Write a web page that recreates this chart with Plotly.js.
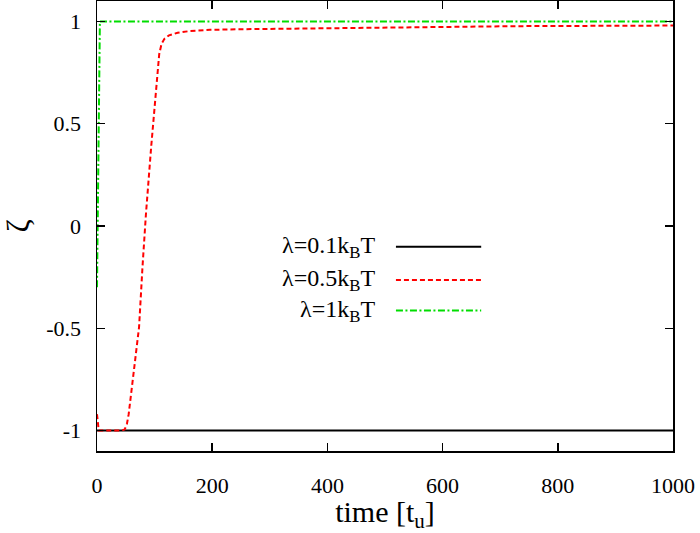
<!DOCTYPE html>
<html>
<head>
<meta charset="utf-8">
<script src="https://cdn.plot.ly/plotly-3.0.1.min.js"></script>
<style>html,body{margin:0;padding:0;background:#fff}#chart{width:700px;height:533px}</style>
</head>
<body>
<div id="chart"></div>
<script>
// Series names
const seriesNames = ["λ=0.1k<sub>B</sub>T", "λ=0.5k<sub>B</sub>T", "λ=1k<sub>B</sub>T"];

// λ = 0.1 kBT
const timeBlack = [0, 1000];
const zetaBlack = [-1, -1];

// λ = 0.5 kBT
const timeRed = [0, 1.5, 3, 20, 43, 48, 52, 55, 58, 64, 73, 79, 85, 94, 103, 108, 112, 117, 125, 140, 161, 196, 250, 381, 555, 729, 1000];
const zetaRed = [-0.92, -0.95, -1, -1, -1, -0.995, -0.967, -0.92, -0.853, -0.72, -0.495, -0.2, 0.06, 0.385, 0.69, 0.84, 0.89, 0.915, 0.932, 0.945, 0.953, 0.959, 0.962, 0.967, 0.972, 0.977, 0.98];

// λ = 1 kBT
const timeGreen = [0, 2, 3, 4, 5, 1000];
const zetaGreen = [-0.3, 0.3, 0.7, 0.93, 1, 1];

// Axis ticks
const xTicks = [0, 200, 400, 600, 800, 1000];
const yTicks = [-1, -0.5, 0, 0.5, 1];
const yTickText = ["-1", "-0.5", "0", "0.5", "1"];

const colors = ["#000000", "#ff0000", "#00dd00"];
const dashes = ["solid", "5px,3px", "7px,2.5px,2px,2.5px"];
const font = "Liberation Serif";

const traces = [
  {x: timeBlack, y: zetaBlack, mode: "lines", line: {color: colors[0], width: 2, dash: dashes[0]}, name: seriesNames[0]},
  {x: timeRed, y: zetaRed, mode: "lines", line: {color: colors[1], width: 2, dash: dashes[1]}, name: seriesNames[1]},
  {x: timeGreen, y: zetaGreen, mode: "lines", line: {color: colors[2], width: 2, dash: dashes[2]}, name: seriesNames[2]}
];

// Legend (text right-aligned, sample on the right), built from series info
const legendY = [0.454, 0.38, 0.312];
const annotations = seriesNames.map((s, i) => ({
  xref: "paper", yref: "paper", x: 0.486, y: legendY[i], xanchor: "right", yanchor: "middle",
  text: s, showarrow: false, font: {family: font, size: 24, color: "#000"}
}));
const shapes = seriesNames.map((s, i) => ({
  type: "line", xref: "paper", yref: "paper", x0: 0.519, x1: 0.667, y0: legendY[i], y1: legendY[i],
  line: {color: colors[i], width: 2, dash: dashes[i]}
}));

function axisCommon() {
  return {
    showgrid: false, zeroline: false, showline: true, mirror: "ticks",
    linecolor: "#000", linewidth: 1.5, ticks: "inside", ticklen: 8, tickwidth: 1.5, tickcolor: "#000",
    tickfont: {family: font, size: 22, color: "#000"}
  };
}

const layout = {
  width: 700, height: 533,
  margin: {l: 97, r: 27, t: 1, b: 82},
  paper_bgcolor: "#fff", plot_bgcolor: "#fff",
  font: {family: font, color: "#000"},
  showlegend: false,
  xaxis: Object.assign(axisCommon(), {
    range: [0, 1000], tickvals: xTicks, ticklabelstandoff: 14,
    title: {text: "time [t<sub>u</sub>]", font: {family: font, size: 30, color: "#000"}, standoff: 4}
  }),
  yaxis: Object.assign(axisCommon(), {
    range: [-1.1, 1.1], tickvals: yTicks, ticktext: yTickText, ticklabelstandoff: 10,
    title: {text: "ζ", font: {family: font, size: 32, color: "#000"}, standoff: 30}
  }),
  annotations: annotations,
  shapes: shapes
};

Plotly.newPlot("chart", traces, layout, {displayModeBar: false, staticPlot: true});
</script>
</body>
</html>
